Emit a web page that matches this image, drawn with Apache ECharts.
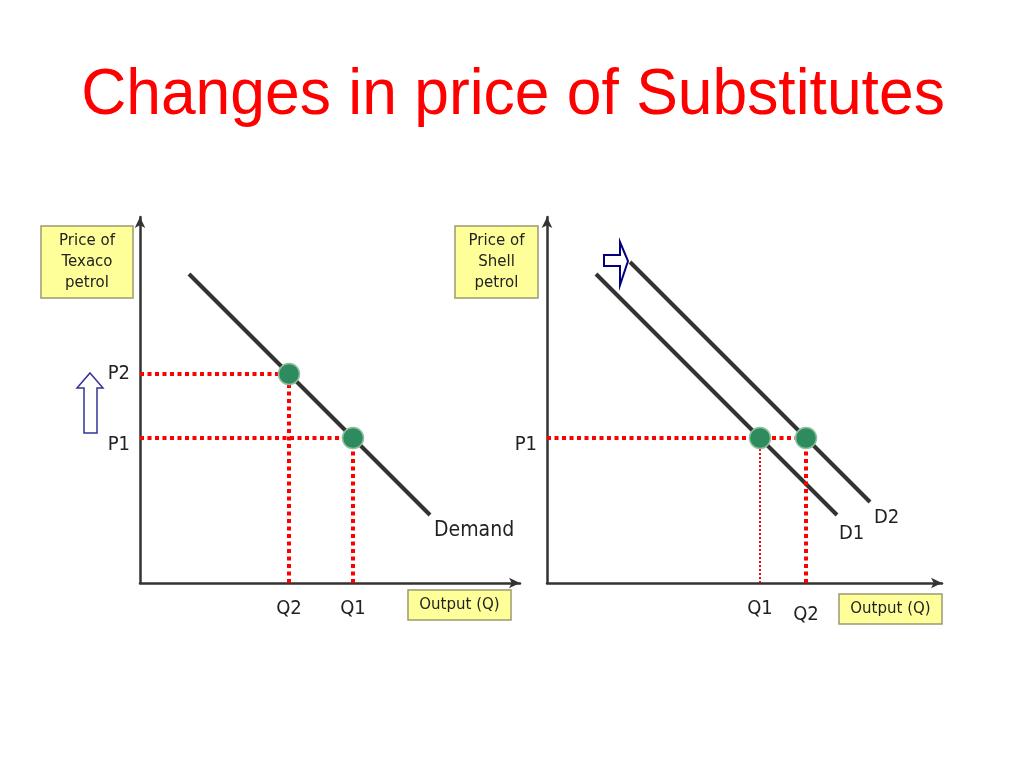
<!DOCTYPE html>
<html><head><meta charset="utf-8">
<script src="https://cdn.jsdelivr.net/npm/echarts@6/dist/echarts.min.js"></script>
<style>html,body{margin:0;padding:0;background:#fff}#c{width:1024px;height:768px}</style>
</head><body><div id="c"></div>
<script>
// ---------- data ----------
const titleText = 'Changes in price of Substitutes';
// Left panel: Texaco
const leftDemandX = [49, 290];
const leftDemandY = [309, 68];
const leftPrices = [145, 209];          // P1, P2
const leftPriceLabels = ['P1', 'P2'];
const leftQuantities = [213, 149];      // Q1, Q2
const leftQtyLabels = ['Q1', 'Q2'];
// Right panel: Shell
const rightD1X = [49, 290];
const rightD1Y = [309, 68];
const rightD2X = [83, 323];
const rightD2Y = [321, 81];
const rightPrices = [145];              // P1
const rightPriceLabels = ['P1'];
const rightQuantities = [213, 259];     // Q1, Q2
const rightQtyLabels = ['Q1', 'Q2'];
const leftXMax = 380, rightXMax = 395, yMax = 366;

// ---------- helpers ----------
const zip = (xs, ys) => xs.map((x, i) => [x, ys[i]]);
const AX = '#333333';
const RED = '#ff0000';
const labelFont = '"DejaVu Sans Condensed", "DejaVu Sans", sans-serif';
const boxFont = '"DejaVu Sans", sans-serif';

function axisX(gi, max, vals, labels) {
  return {
    gridIndex: gi, type: 'value', min: 0, max: max,
    splitLine: {show: false}, axisTick: {show: false},
    axisLine: {show: true, symbol: ['none', 'arrow'], symbolSize: [8, 11], lineStyle: {color: AX, width: 2.5}},
    axisLabel: {
      show: true, customValues: vals, margin: 16, color: '#222', fontSize: 20, fontFamily: labelFont,
      formatter: v => {
        const l = labels[vals.indexOf(v)] || '';
        return (gi === 1 && l === 'Q2') ? '{lo|' + l + '}' : l;
      },
      rich: {lo: {fontSize: 20, fontFamily: labelFont, color: '#222', padding: [6, 0, 0, 0]}}
    }
  };
}
function axisY(gi, vals, labels) {
  return {
    gridIndex: gi, type: 'value', min: 0, max: yMax,
    splitLine: {show: false}, axisTick: {show: false},
    axisLine: {show: true, symbol: ['none', 'arrow'], symbolSize: [8, 11], lineStyle: {color: AX, width: 2.5}},
    axisLabel: {
      show: true, customValues: vals, margin: 10, color: '#222', fontSize: 20, fontFamily: labelFont,
      formatter: v => {
        const l = labels[vals.indexOf(v)] || '';
        return l === 'P1' ? '{lo|' + l + '}' : l;
      },
      rich: {lo: {fontSize: 20, fontFamily: labelFont, color: '#222', padding: [14, 0, 0, 0]}}
    }
  };
}
function demand(gi, data, name, offset) {
  return {
    type: 'line', xAxisIndex: gi, yAxisIndex: gi, data: data, symbol: 'none', z: 3,
    lineStyle: {color: AX, width: 4}, silent: true,
    endLabel: {show: true, formatter: name, color: '#222', fontSize: name === 'Demand' ? 21 : 20,
      fontFamily: labelFont, offset: offset, distance: 0}
  };
}
function dotted(gi, data, width) {
  return {
    type: 'line', xAxisIndex: gi, yAxisIndex: gi, data: data, symbol: 'none', z: 4, silent: true,
    lineStyle: {color: RED, width: width, type: width > 3 ? [4, 3.5] : [2, 2]}
  };
}
function points(gi, data) {
  return {
    type: 'scatter', xAxisIndex: gi, yAxisIndex: gi, data: data, symbolSize: 21, z: 6, silent: true,
    itemStyle: {color: '#2e8b5e', borderColor: '#8fbf9f', borderWidth: 1.5, opacity: 1}
  };
}

// ---------- series ----------
const series = [];
// left
series.push(demand(0, zip(leftDemandX, leftDemandY), 'Demand', [4, 16]));
leftPrices.forEach((p, i) => {
  const q = leftQuantities[i];
  series.push(dotted(0, [[0, p], [q, p]], 4));
  series.push(dotted(0, [[q, 0], [q, p]], 4));
});
series.push(points(0, leftPrices.map((p, i) => [leftQuantities[i], p])));
// right
series.push(demand(1, zip(rightD1X, rightD1Y), 'D1', [2, 19]));
series.push(demand(1, zip(rightD2X, rightD2Y), 'D2', [4, 16]));
series.push(dotted(1, [[0, rightPrices[0]], [rightQuantities[1], rightPrices[0]]], 4));
series.push(dotted(1, [[rightQuantities[0], 0], [rightQuantities[0], rightPrices[0]]], 2));
series.push(dotted(1, [[rightQuantities[1], 0], [rightQuantities[1], rightPrices[0]]], 4));
series.push(points(1, rightQuantities.map(q => [q, rightPrices[0]])));

// ---------- annotations ----------
const boxStyle = {fill: '#ffff99', stroke: '#9a9a70', lineWidth: 1.5};
function box(x, y, w, h, text, fs, lh) {
  return [
    {type: 'rect', shape: {x: x, y: y, width: w, height: h}, style: boxStyle, z: 10},
    {type: 'text', x: x + w / 2, y: y + h / 2, z: 11,
      style: {text: text, font: fs + 'px ' + boxFont, lineHeight: lh, fill: '#222', align: 'center', verticalAlign: 'middle'}}
  ];
}
const graphic = [
  {type: 'text', x: 513, y: 96, scaleX: 0.975,
    style: {text: titleText, font: '64px "Liberation Sans", Arial, sans-serif', fill: '#ff0000', align: 'center', verticalAlign: 'middle'}},
  ...box(41, 226, 92, 72, 'Price of\nTexaco\npetrol', 15, 21),
  ...box(455, 226, 83, 72, 'Price of\nShell\npetrol', 15, 21),
  ...box(408, 590, 103, 30, 'Output (Q)', 15, 18),
  ...box(839, 594, 103, 30, 'Output (Q)', 15, 18),
  {type: 'polygon', z: 10, shape: {points: [[90, 373], [103, 388], [97, 388], [97, 433], [84, 433], [84, 388], [77, 388]]},
    style: {fill: '#ffffff', stroke: '#333399', lineWidth: 1.5}},
  {type: 'polygon', z: 10, shape: {points: [[604, 255], [620, 255], [620, 242], [628, 261], [620, 285], [620, 266], [604, 266]]},
    style: {fill: '#ffffff', stroke: '#000080', lineWidth: 2}}
];

const chart = echarts.init(document.getElementById('c'), null, {renderer: 'canvas'});
chart.setOption({
  backgroundColor: '#ffffff',
  animation: false,
  grid: [
    {left: 140, top: 217, width: leftXMax, height: yMax},
    {left: 547, top: 217, width: rightXMax, height: yMax}
  ],
  xAxis: [axisX(0, leftXMax, leftQuantities, leftQtyLabels), axisX(1, rightXMax, rightQuantities, rightQtyLabels)],
  yAxis: [axisY(0, leftPrices, leftPriceLabels), axisY(1, rightPrices, rightPriceLabels)],
  series: series,
  graphic: graphic
});
</script></body></html>
